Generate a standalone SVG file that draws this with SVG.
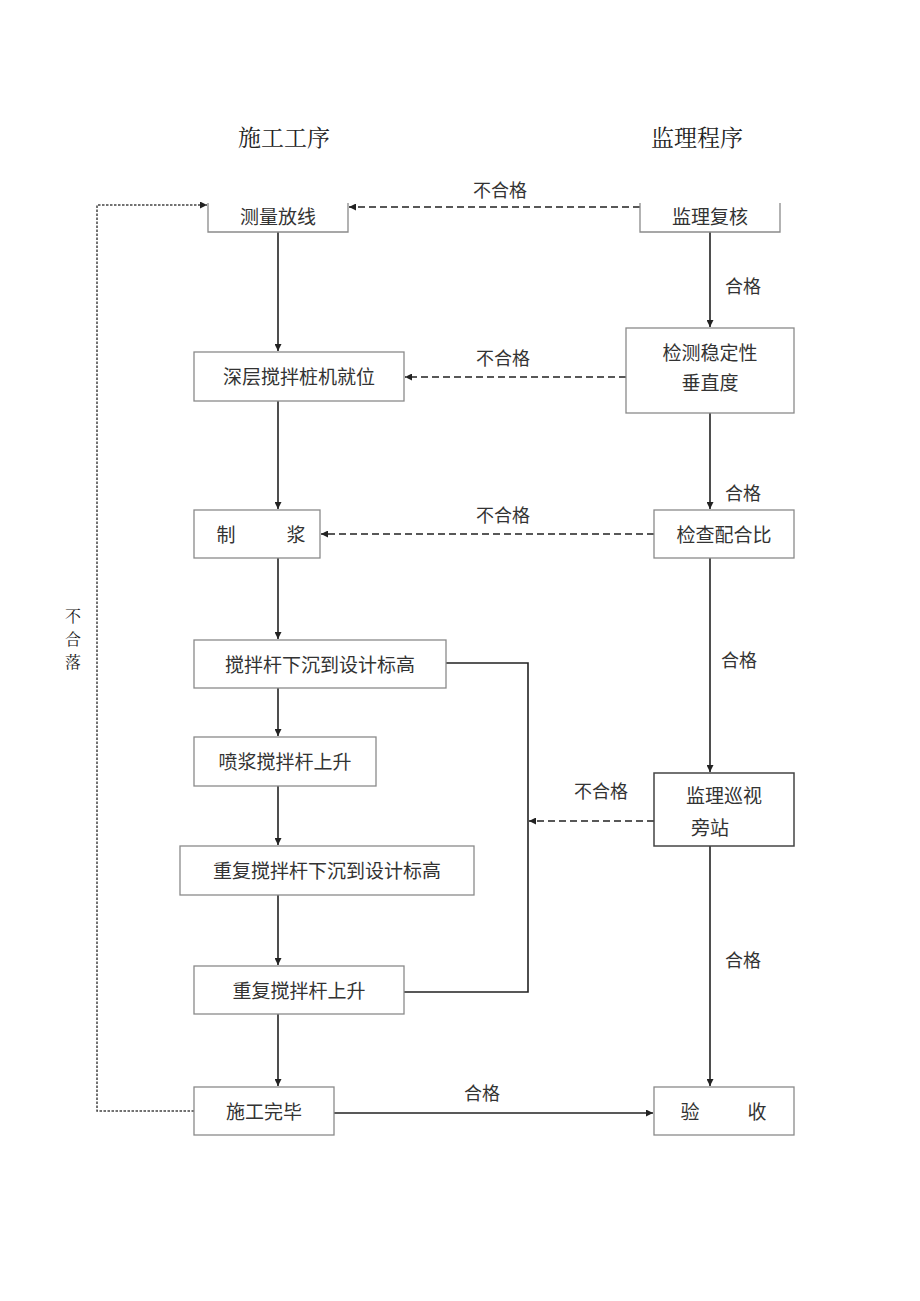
<svg xmlns="http://www.w3.org/2000/svg" width="920" height="1301" viewBox="0 0 920 1301">
<defs>
<style>
.box{fill:#fff;stroke:#8a8a8a;stroke-width:1.3}
.bx2{fill:#fff;stroke:#444;stroke-width:1.5}
.t{font-family:"Noto Sans CJK SC","Noto Sans",sans-serif;font-size:19px;fill:#333;text-anchor:middle}
.lb{font-family:"Noto Sans CJK SC","Noto Sans",sans-serif;font-size:18px;fill:#333;text-anchor:middle}
.title{font-family:"Noto Serif CJK SC","Noto Sans CJK SC",serif;font-size:23px;fill:#222;text-anchor:middle}
.vt{font-family:"Noto Serif CJK SC","Noto Sans CJK SC",serif;font-size:16px;fill:#222;text-anchor:middle}
.solid{fill:none;stroke:#222;stroke-width:1.6}
.dash{fill:none;stroke:#222;stroke-width:1.6;stroke-dasharray:7,4}
.dot{fill:none;stroke:#444;stroke-width:1.5;stroke-dasharray:2.5,1.5}
</style>
<marker id="ah" viewBox="0 0 10 10" refX="10" refY="5" markerWidth="7" markerHeight="7" orient="auto" markerUnits="userSpaceOnUse">
<path d="M0,0 L10,5 L0,10 z" fill="#222"/>
</marker>
</defs>
<rect width="920" height="1301" fill="#fff"/>
<g id="titles">
<text class="title" x="284" y="146">施工工序</text>
<text class="title" x="697" y="146">监理程序</text>
</g>
<g id="connectors">
<path class="solid" d="M278,232 V351" marker-end="url(#ah)"/>
<path class="solid" d="M278,401 V509" marker-end="url(#ah)"/>
<path class="solid" d="M278,558 V639" marker-end="url(#ah)"/>
<path class="solid" d="M278,688 V736" marker-end="url(#ah)"/>
<path class="solid" d="M278,786 V845" marker-end="url(#ah)"/>
<path class="solid" d="M278,895 V965" marker-end="url(#ah)"/>
<path class="solid" d="M278,1014 V1086" marker-end="url(#ah)"/>
<path class="solid" d="M710,232 V327" marker-end="url(#ah)"/>
<path class="solid" d="M710,413 V509" marker-end="url(#ah)"/>
<path class="solid" d="M710,558 V772" marker-end="url(#ah)"/>
<path class="solid" d="M710,846 V1086" marker-end="url(#ah)"/>
<path class="solid" d="M334,1113 H653" marker-end="url(#ah)"/>
<path class="solid" d="M446,663 H528 V992 H404"/>
<path class="dash" d="M640,207 H349" marker-end="url(#ah)"/>
<path class="dash" d="M626,377 H405" marker-end="url(#ah)"/>
<path class="dash" d="M654,534 H321" marker-end="url(#ah)"/>
<path class="dash" d="M654,821 H529" marker-end="url(#ah)"/>
<path class="dot" d="M194,1111 H97 V205 H207" marker-end="url(#ah)"/>
<text class="lb" x="500" y="197">不合格</text>
<text class="lb" x="503" y="365">不合格</text>
<text class="lb" x="503" y="522">不合格</text>
<text class="lb" x="601" y="798">不合格</text>
<text class="lb" x="743" y="293">合格</text>
<text class="lb" x="743" y="500">合格</text>
<text class="lb" x="739" y="667">合格</text>
<text class="lb" x="743" y="967">合格</text>
<text class="lb" x="482" y="1100">合格</text>
<text class="vt" x="73" y="622">不</text>
<text class="vt" x="73" y="645">合</text>
<text class="vt" x="73" y="668">落</text>
</g>
<g id="n1"><path class="box" d="M208,203 V232 H348 V203"/><text class="t" x="278" y="224">测量放线</text></g>
<g id="n2"><rect class="box" x="194" y="352" width="210" height="49"/><text class="t" x="299" y="384">深层搅拌桩机就位</text></g>
<g id="n3"><rect class="box" x="194" y="510" width="126" height="48"/><text class="t" x="226" y="542">制</text><text class="t" x="296" y="542">浆</text></g>
<g id="n4"><rect class="box" x="194" y="640" width="252" height="48"/><text class="t" x="320" y="672">搅拌杆下沉到设计标高</text></g>
<g id="n5"><rect class="box" x="194" y="737" width="182" height="49"/><text class="t" x="285" y="769">喷浆搅拌杆上升</text></g>
<g id="n6"><rect class="box" x="180" y="846" width="294" height="49"/><text class="t" x="327" y="878">重复搅拌杆下沉到设计标高</text></g>
<g id="n7"><rect class="box" x="194" y="966" width="210" height="48"/><text class="t" x="299" y="998">重复搅拌杆上升</text></g>
<g id="n8"><rect class="box" x="194" y="1087" width="140" height="48"/><text class="t" x="264" y="1119">施工完毕</text></g>
<g id="m1"><path class="box" d="M640,203 V232 H780 V203"/><text class="t" x="710" y="224">监理复核</text></g>
<g id="m2"><rect class="box" x="626" y="328" width="168" height="85"/><text class="t" x="710" y="360">检测稳定性</text><text class="t" x="710" y="390">垂直度</text></g>
<g id="m3"><rect class="box" x="654" y="510" width="140" height="48"/><text class="t" x="724" y="542">检查配合比</text></g>
<g id="m4"><rect class="bx2" x="654" y="773" width="140" height="73"/><text class="t" x="724" y="803">监理巡视</text><text class="t" x="710" y="835">旁站</text></g>
<g id="m5"><rect class="box" x="654" y="1087" width="140" height="48"/><text class="t" x="690" y="1119">验</text><text class="t" x="757" y="1119">收</text></g>
</svg>
